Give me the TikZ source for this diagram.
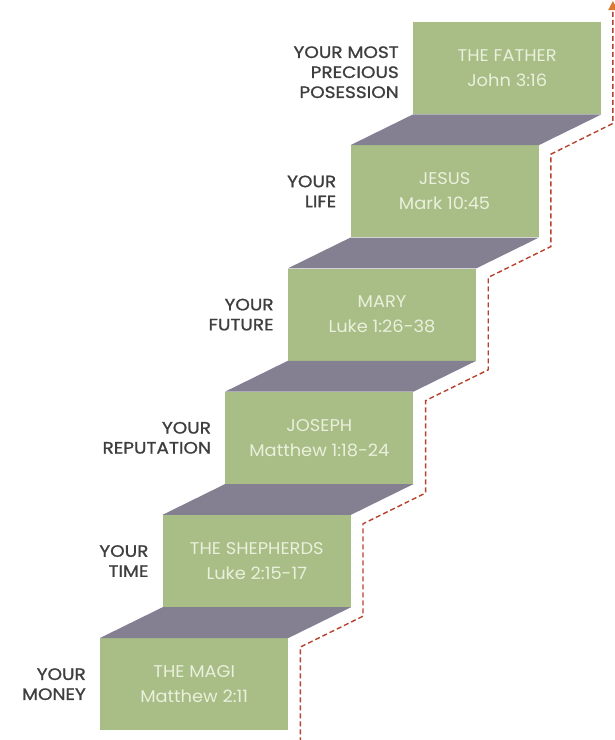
\documentclass[tikz,border=0pt]{standalone}
\usepackage{fontspec}
\setmainfont{Poppins}
\newfontfamily\labelfont{Poppins}[FakeBold=1.0,FakeStretch=1.12]
\newfontfamily\boxfont{Poppins}[FakeStretch=1.05]
\usetikzlibrary{arrows.meta}
\definecolor{stepgreen}{RGB}{168,190,134}
\definecolor{slabgray}{RGB}{132,128,146}
\definecolor{boxtext}{RGB}{234,240,220}
\definecolor{labeltext}{RGB}{62,62,62}
\definecolor{pathred}{RGB}{184,66,44}
\definecolor{arroworange}{RGB}{220,120,48}
\begin{document}
\begin{tikzpicture}[x=1pt,y=-1pt,
  stepbox/.style={fill=stepgreen, draw=none, minimum width=188pt, minimum height=92pt,
    inner sep=0pt, anchor=north west, align=center, text=boxtext,
    font=\boxfont\fontsize{17}{25}\selectfont},
  steplabel/.style={anchor=east, align=right, text=labeltext, inner sep=0pt,
    font=\labelfont\fontsize{16.5}{20}\selectfont},
  slab/.style={fill=slabgray},
  route/.style={draw=pathred, line width=1.4pt, dash pattern=on 5pt off 3pt}]
\useasboundingbox (0,0) rectangle (615,740);
\fill[white] (0,0) rectangle (615,740);
\begin{scope}
\clip (0,0) rectangle (615,740);
% steps
\node[stepbox] (s0) at (100,638)   {THE MAGI\\Matthew 2:11};
\node[stepbox] (s1) at (162.6,514.8) {THE SHEPHERDS\\Luke 2:15-17};
\node[stepbox] (s2) at (225.2,391.6) {JOSEPH\\Matthew 1:18-24};
\node[stepbox] (s3) at (287.8,268.4) {MARY\\Luke 1:26-38};
\node[stepbox] (s4) at (350.4,145.2) {JESUS\\Mark 10:45};
\node[stepbox] (s5) at (413,22)    {THE FATHER\\John 3:16};
% slabs (treads)
\foreach \a/\b in {s0/s1,s1/s2,s2/s3,s3/s4,s4/s5}{
  \fill[slab] (\a.north west) -- (\a.north east) -- (\b.south east) -- (\b.south west) -- cycle;
}
% labels
\node[steplabel] (l0) at ([xshift=-14pt]s0.west) {YOUR\\MONEY};
\node[steplabel] (l1) at ([xshift=-14pt]s1.west) {YOUR\\TIME};
\node[steplabel] (l2) at ([xshift=-14pt]s2.west) {YOUR\\REPUTATION};
\node[steplabel] (l3) at ([xshift=-14pt]s3.west) {YOUR\\FUTURE};
\node[steplabel] (l4) at ([xshift=-14pt]s4.west) {YOUR\\LIFE};
\node[steplabel] (l5) at ([shift={(-14pt,-4pt)}]s5.west) {YOUR MOST\\PRECIOUS\\POSESSION};
% dashed route
\coordinate (start) at ([shift={(12,12)}]s0.south east);
\coordinate (tip) at ([shift={(11.5,-21)}]s5.north east);
\draw[route, -{Triangle[length=9pt,width=9pt,color=arroworange]}]
  (start)
  -- ([shift={(12,9)}]s0.north east) -- ([shift={(12,9)}]s1.south east)
  -- ([shift={(12,9)}]s1.north east) -- ([shift={(12,9)}]s2.south east)
  -- ([shift={(12,9)}]s2.north east) -- ([shift={(12,9)}]s3.south east)
  -- ([shift={(12,9)}]s3.north east) -- ([shift={(12,9)}]s4.south east)
  -- ([shift={(12,9)}]s4.north east) -- ([shift={(11.5,9)}]s5.south east)
  -- (tip);
\end{scope}
\end{tikzpicture}
\end{document}
